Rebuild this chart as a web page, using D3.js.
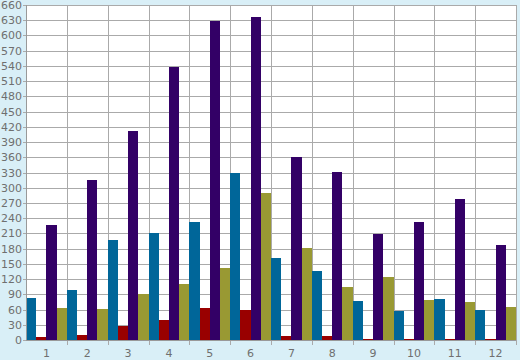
<!DOCTYPE html>
<html><head><meta charset="utf-8">
<script src="https://cdn.jsdelivr.net/npm/d3@7"></script>
<style>
html,body{margin:0;padding:0;background:#d9eff7;}
svg{display:block;}
text{font-family:"DejaVu Sans",Verdana,sans-serif;font-size:11px;fill:#6f6f6f;}
</style></head><body>
<svg id="c" width="520" height="360"></svg>
<script>
const categories = ["1","2","3","4","5","6","7","8","9","10","11","12"];
const seriesBlue   = [82, 98, 197, 211, 232, 329, 161, 136, 77, 57, 81, 59];
const seriesRed    = [6, 10, 28, 39, 63, 59, 8, 8, 2, 1, 2, 2];
const seriesPurple = [226, 315, 412, 538, 628, 636, 360, 331, 209, 232, 278, 187];
const seriesOlive  = [63, 61, 91, 110, 142, 289, 181, 104, 124, 79, 75, 65];
const seriesColors = ["#006699", "#990000", "#330066", "#999933"];
const yTicks = d3.range(0, 661, 30);

const series = [seriesBlue, seriesRed, seriesPurple, seriesOlive];
const svg = d3.select("#c");
const m = {l:26, r:4, t:5, b:20};
const W = 520, H = 360;
const x = d3.scaleBand().domain(categories).range([m.l, W - m.r]).padding(0);
const x1 = d3.scaleBand().domain(d3.range(series.length)).range([0, x.bandwidth()]).padding(0);
const y = d3.scaleLinear().domain([0, 660]).range([H - m.b, m.t]);

svg.append("rect").attr("x", m.l).attr("y", m.t).attr("width", W - m.r - m.l).attr("height", H - m.b - m.t).attr("fill", "#fff");

// horizontal grid
svg.append("g").selectAll("line").data(yTicks).join("line")
  .attr("x1", m.l - 3).attr("x2", W - m.r)
  .attr("y1", d => Math.round(y(d)) + 0.5).attr("y2", d => Math.round(y(d)) + 0.5)
  .attr("stroke", "#aaaaaa").attr("stroke-width", 1);
// vertical grid
const bounds = categories.map(c => x(c)).concat([W - m.r]);
svg.append("g").selectAll("line").data(bounds).join("line")
  .attr("x1", d => Math.round(d) + 0.5).attr("x2", d => Math.round(d) + 0.5)
  .attr("y1", m.t).attr("y2", (d,i) => (i === 0 ? H - m.b : H - m.b + 5))
  .attr("stroke", "#aaaaaa").attr("stroke-width", 1);

// bars
const g = svg.append("g");
categories.forEach((c, ci) => {
  series.forEach((s, si) => {
    g.append("rect")
      .attr("x", x(c) + x1(si))
      .attr("width", x1.bandwidth())
      .attr("y", y(s[ci]))
      .attr("height", y(0) - y(s[ci]))
      .attr("fill", seriesColors[si])
      .attr("shape-rendering", "crispEdges");
  });
});

// axis lines
svg.append("line").attr("x1", m.l + 0.5).attr("x2", m.l + 0.5).attr("y1", m.t).attr("y2", H - m.b).attr("stroke", "#999");
svg.append("line").attr("x1", m.l).attr("x2", W - m.r).attr("y1", H - m.b + 0.5).attr("y2", H - m.b + 0.5).attr("stroke", "#999");

// y labels
svg.append("g").selectAll("text").data(yTicks).join("text")
  .attr("x", m.l - 4).attr("y", d => y(d) + 4)
  .attr("text-anchor", "end").text(d => d);
// x labels
svg.append("g").selectAll("text").data(categories).join("text")
  .attr("x", d => x(d) + x.bandwidth() / 2).attr("y", H - 3)
  .attr("text-anchor", "middle").text(d => d);
</script>
</body></html>
